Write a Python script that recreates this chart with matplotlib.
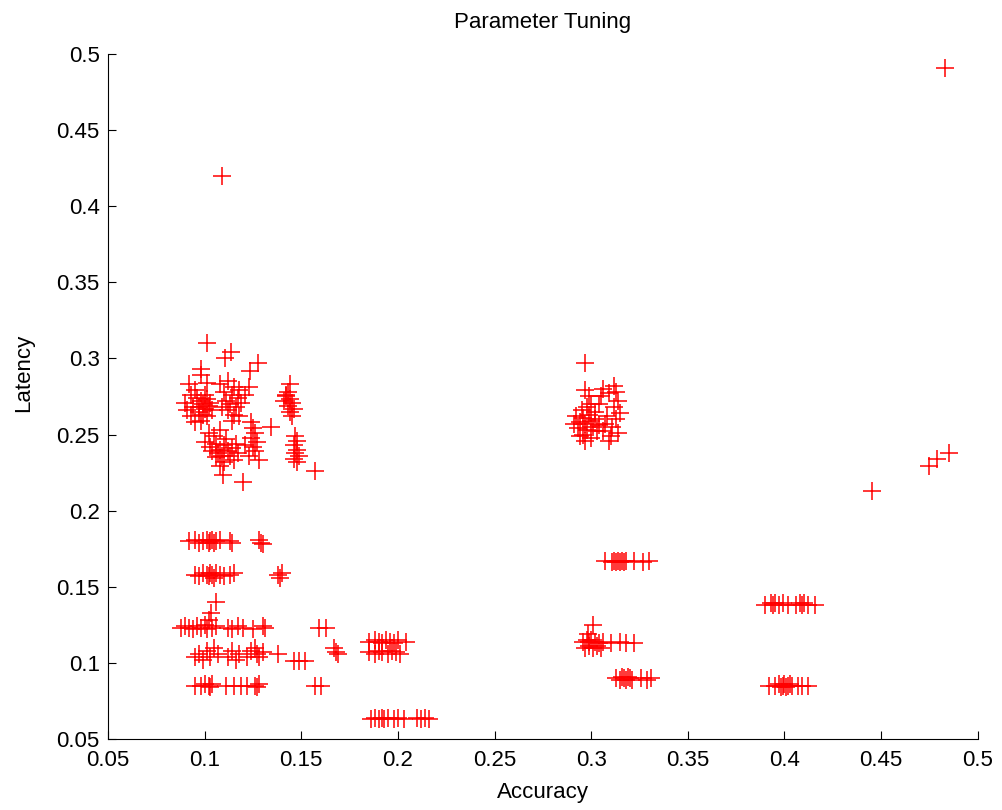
import matplotlib
matplotlib.use("Agg")
import matplotlib.pyplot as plt
import numpy as np

# upper left group (latency 0.22 - 0.31)
acc_ul = [0.1014, 0.1104, 0.1138, 0.1237, 0.1276, 0.098, 0.098,
          0.092, 0.095, 0.101, 0.093, 0.090, 0.091, 0.093, 0.095, 0.097, 0.098, 0.099,
          0.100, 0.101, 0.102, 0.097, 0.096, 0.099, 0.103, 0.100, 0.094, 0.104, 0.101, 0.098,
          0.108, 0.112, 0.115, 0.110, 0.114, 0.117, 0.111, 0.113, 0.116, 0.119, 0.112, 0.115,
          0.109, 0.118, 0.121, 0.123, 0.118, 0.114,
          0.144, 0.143, 0.142, 0.144, 0.145, 0.143, 0.141, 0.146, 0.144, 0.142, 0.145,
          0.102, 0.105, 0.108, 0.100, 0.103, 0.106, 0.108, 0.110, 0.107, 0.109, 0.104, 0.111,
          0.112, 0.114, 0.106, 0.110, 0.113, 0.116, 0.115, 0.108, 0.117, 0.1095, 0.1198,
          0.124, 0.125, 0.126, 0.124, 0.127, 0.125, 0.126, 0.123, 0.128, 0.121, 0.1345,
          0.147, 0.148, 0.146, 0.148, 0.147, 0.149, 0.146, 0.148, 0.157]
lat_ul = [0.310, 0.300, 0.304, 0.292, 0.297, 0.293, 0.289,
          0.283, 0.279, 0.284, 0.276, 0.271, 0.266, 0.262, 0.258, 0.268, 0.272, 0.270,
          0.267, 0.273, 0.269, 0.265, 0.274, 0.263, 0.271, 0.276, 0.268, 0.266, 0.262, 0.259,
          0.283, 0.285, 0.281, 0.278, 0.276, 0.274, 0.272, 0.270, 0.268, 0.271, 0.266, 0.263,
          0.268, 0.279, 0.276, 0.281, 0.262, 0.259,
          0.283, 0.278, 0.275, 0.273, 0.271, 0.269, 0.272, 0.267, 0.265, 0.276, 0.262,
          0.251, 0.249, 0.253, 0.245, 0.242, 0.244, 0.240, 0.243, 0.238, 0.236, 0.239, 0.247,
          0.239, 0.241, 0.235, 0.232, 0.236, 0.244, 0.233, 0.229, 0.238, 0.2235, 0.219,
          0.258, 0.254, 0.251, 0.248, 0.245, 0.242, 0.239, 0.236, 0.233, 0.243, 0.255,
          0.249, 0.246, 0.243, 0.240, 0.238, 0.236, 0.234, 0.232, 0.226]

# lower left rows (latency 0.06 - 0.18)
acc_ll = [0.092, 0.095, 0.097, 0.099, 0.101, 0.102, 0.103, 0.104, 0.105, 0.106, 0.108,
          0.113, 0.114, 0.128, 0.129, 0.130,
          0.095, 0.097, 0.099, 0.101, 0.102, 0.103, 0.104, 0.105, 0.106, 0.108, 0.110,
          0.113, 0.115, 0.138, 0.139, 0.140,
          0.106, 0.1035,
          0.088, 0.090, 0.092, 0.094, 0.096, 0.098, 0.100, 0.101, 0.102, 0.104, 0.106,
          0.112, 0.114, 0.117, 0.120, 0.125, 0.130, 0.131, 0.159, 0.163,
          0.095, 0.097, 0.099, 0.101, 0.103, 0.105, 0.107, 0.112, 0.114, 0.116, 0.118,
          0.122, 0.124, 0.126, 0.127, 0.128, 0.130, 0.138, 0.146, 0.149, 0.152,
          0.167, 0.168, 0.169,
          0.095, 0.098, 0.100, 0.102, 0.103, 0.104, 0.111, 0.115, 0.119, 0.122, 0.126,
          0.127, 0.128, 0.157, 0.160,
          0.185, 0.188, 0.190, 0.192, 0.194, 0.196, 0.198, 0.200, 0.204,
          0.185, 0.188, 0.190, 0.192, 0.195, 0.197, 0.199, 0.201,
          0.186, 0.188, 0.190, 0.192, 0.193, 0.195, 0.198, 0.200, 0.203, 0.210, 0.212,
          0.214, 0.216]
lat_ll = [0.180, 0.181, 0.179, 0.180, 0.181, 0.179, 0.180, 0.181, 0.179, 0.180, 0.181,
          0.180, 0.179, 0.181, 0.179, 0.178,
          0.158, 0.157, 0.159, 0.158, 0.157, 0.159, 0.158, 0.156, 0.159, 0.158, 0.157,
          0.158, 0.159, 0.158, 0.156, 0.159,
          0.140, 0.1326,
          0.123, 0.124, 0.123, 0.122, 0.124, 0.123, 0.125, 0.122, 0.128, 0.123, 0.124,
          0.123, 0.122, 0.124, 0.123, 0.122, 0.124, 0.123, 0.123, 0.123,
          0.104, 0.106, 0.102, 0.108, 0.104, 0.110, 0.106, 0.104, 0.108, 0.102, 0.106,
          0.104, 0.108, 0.110, 0.106, 0.104, 0.107, 0.106, 0.101, 0.101, 0.101,
          0.110, 0.107, 0.106,
          0.085, 0.085, 0.086, 0.085, 0.084, 0.086, 0.085, 0.085, 0.085, 0.085, 0.085,
          0.084, 0.086, 0.085, 0.085,
          0.114, 0.115, 0.114, 0.113, 0.115, 0.114, 0.113, 0.115, 0.114,
          0.107, 0.106, 0.108, 0.107, 0.106, 0.108, 0.107, 0.106,
          0.063, 0.064, 0.063, 0.064, 0.063, 0.064, 0.063, 0.064, 0.063, 0.064, 0.063,
          0.064, 0.063]

# middle group around accuracy 0.3
acc_mid = [0.2967,
           0.292, 0.294, 0.293, 0.295, 0.296, 0.297, 0.298, 0.296, 0.299, 0.300, 0.301,
           0.298, 0.300, 0.302, 0.294, 0.297, 0.300, 0.303, 0.291, 0.299, 0.297, 0.302, 0.304,
           0.306, 0.309, 0.312, 0.313, 0.314, 0.312, 0.315, 0.313, 0.311, 0.314, 0.310,
           0.308, 0.307, 0.306, 0.309, 0.304, 0.305,
           0.307, 0.311, 0.312, 0.313, 0.314, 0.315, 0.316, 0.317, 0.318, 0.322, 0.327, 0.330,
           0.301, 0.2985,
           0.296, 0.298, 0.299, 0.300, 0.302, 0.304, 0.306, 0.310, 0.315, 0.318, 0.322,
           0.297, 0.299, 0.301, 0.303, 0.305,
           0.313, 0.315, 0.316, 0.317, 0.318, 0.319, 0.320, 0.321, 0.326, 0.329, 0.331]
lat_mid = [0.297,
           0.262, 0.258, 0.254, 0.266, 0.261, 0.257, 0.253, 0.250, 0.263, 0.259, 0.255,
           0.268, 0.270, 0.265, 0.249, 0.246, 0.248, 0.252, 0.257, 0.275, 0.279, 0.260, 0.256,
           0.280, 0.277, 0.282, 0.278, 0.272, 0.268, 0.264, 0.260, 0.255, 0.251, 0.249,
           0.262, 0.257, 0.252, 0.246, 0.270, 0.275,
           0.167, 0.166, 0.167, 0.166, 0.167, 0.166, 0.167, 0.166, 0.167, 0.167, 0.166, 0.167,
           0.125, 0.119,
           0.114, 0.115, 0.114, 0.115, 0.114, 0.113, 0.114, 0.113, 0.114, 0.113, 0.113,
           0.110, 0.111, 0.110, 0.111, 0.110,
           0.090, 0.089, 0.091, 0.090, 0.089, 0.091, 0.090, 0.089, 0.090, 0.089, 0.090]

# right group (accuracy 0.39 - 0.49)
acc_r = [0.390, 0.393, 0.394, 0.395, 0.397, 0.399, 0.402, 0.406, 0.408, 0.409, 0.410,
         0.412, 0.416,
         0.392, 0.395, 0.397, 0.398, 0.399, 0.400, 0.401, 0.402, 0.403, 0.404, 0.407,
         0.409, 0.412,
         0.4451, 0.4749, 0.4787, 0.4851, 0.483, 0.109]
lat_r = [0.138, 0.139, 0.138, 0.139, 0.138, 0.139, 0.138, 0.138, 0.139, 0.138, 0.139,
         0.138, 0.138,
         0.085, 0.085, 0.086, 0.084, 0.085, 0.086, 0.084, 0.085, 0.086, 0.085, 0.085,
         0.085, 0.085,
         0.213, 0.229, 0.234, 0.238, 0.491, 0.420]

accuracy = np.array(acc_ul + acc_ll + acc_mid + acc_r)
latency = np.array(lat_ul + lat_ll + lat_mid + lat_r)

plt.rcParams['font.family'] = ['Liberation Sans', 'DejaVu Sans']

fig = plt.figure(figsize=(10.02, 8.10), dpi=100)
ax = fig.add_axes([0.1078, 0.0877, 0.868, 0.8457])

ax.plot(accuracy, latency, linestyle='none', marker='+', color='red',
        markersize=13, markeredgewidth=1.1)

ax.set_xlim(0.05, 0.5)
ax.set_ylim(0.05, 0.5)
xt = np.arange(0.05, 0.501, 0.05)
ax.set_xticks(xt)
ax.set_yticks(xt)
ax.set_xticklabels(['%g' % round(v, 2) for v in xt])
ax.set_yticklabels(['%g' % round(v, 2) for v in xt])

for side in ['top', 'right']:
    ax.spines[side].set_visible(False)
for side in ['left', 'bottom']:
    ax.spines[side].set_linewidth(0.8)
ax.tick_params(direction='in', length=6, width=0.8, labelsize=16)
ax.tick_params(axis='x', pad=8)
ax.tick_params(axis='y', pad=6)

ax.set_title('Parameter Tuning', fontsize=16, pad=19)
ax.set_xlabel('Accuracy', fontsize=16, labelpad=8)
ax.set_ylabel('Latency', fontsize=16, labelpad=8)
ax.yaxis.set_label_coords(-0.085, 0.535)

fig.savefig('out.png', dpi=100)
